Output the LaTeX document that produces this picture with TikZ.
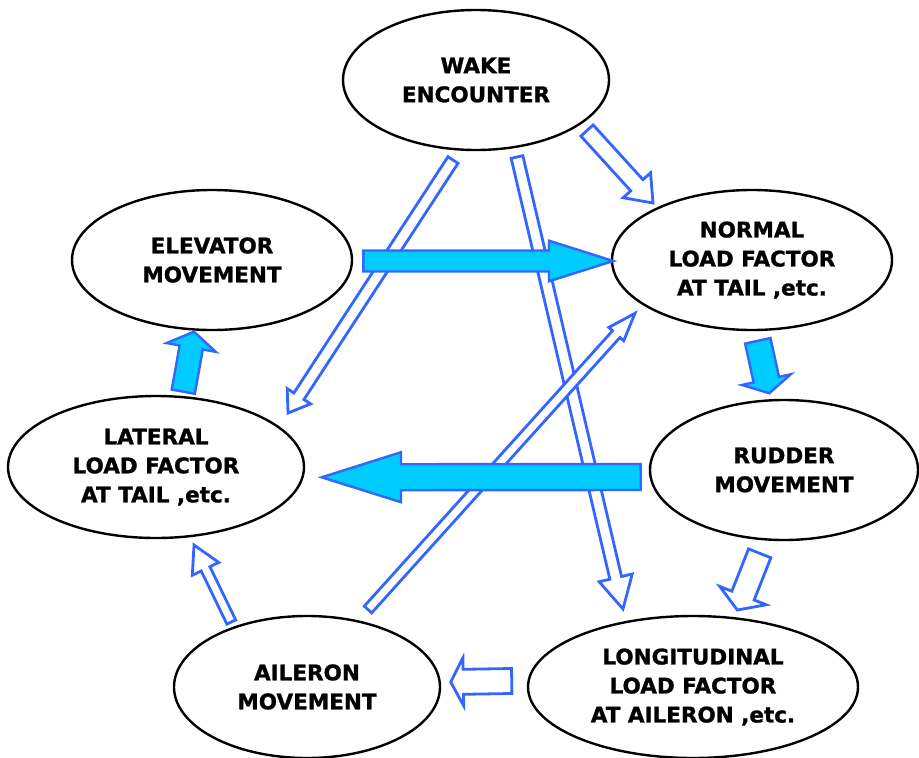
\documentclass[tikz,border=0pt]{standalone}
\usepackage{fontspec}
\setmainfont{DejaVu Sans}[BoldFeatures={FakeBold=1.2}]
\usetikzlibrary{shapes.geometric,calc}
\definecolor{arrline}{HTML}{3366FF}
\definecolor{arrfill}{HTML}{00CCFF}
\newcommand{\barrow}[6]{%
  \coordinate (hb) at ($(#2)!#5!(#1)$);
  \draw[#6] ($(#1)!#3!90:(#2)$) -- ($(hb)!#3!90:(#2)$) -- ($(hb)!#4!90:(#2)$) -- (#2)
    -- ($(hb)!#4!-90:(#2)$) -- ($(hb)!#3!-90:(#2)$) -- ($(#1)!#3!-90:(#2)$) -- cycle;}
\tikzset{
  oval/.style={ellipse, draw=black, line width=2.4pt, fill=white, inner sep=0pt, align=center,
    font=\fontsize{21.5}{29}\selectfont\bfseries},
  hollow/.style={draw=arrline, line width=2.8pt, fill=white, line join=miter},
  solid/.style={draw=arrline, line width=2.4pt, fill=arrfill, line join=miter}
}
\begin{document}
\begin{tikzpicture}[x=1pt,y=-1pt]
\useasboundingbox (0,0) rectangle (919,758);
% ellipses
\node[oval, minimum width=266pt, minimum height=140pt] (wake) at (476,80) {WAKE\\ENCOUNTER};
\node[oval, minimum width=280pt, minimum height=140pt] (elev) at (212,260) {ELEVATOR\\MOVEMENT};
\node[oval, minimum width=280pt, minimum height=140pt] (norm) at (752,260) {NORMAL\\LOAD FACTOR\\AT TAIL ,etc.};
\node[oval, minimum width=296pt, minimum height=142pt] (lat) at (156,467) {LATERAL\\LOAD FACTOR\\AT TAIL ,etc.};
\node[oval, minimum width=268pt, minimum height=140pt] (rud) at (784,470) {RUDDER\\MOVEMENT};
\node[oval, minimum width=266pt, minimum height=142pt] (ail) at (307,687) {AILERON\\MOVEMENT};
\node[oval, minimum width=330pt, minimum height=142pt] (lon) at (693,687) {LONGITUDINAL\\LOAD FACTOR\\AT AILERON ,etc.};
% arrow end points
\coordinate (a1) at (587,130.5); \coordinate (a2) at (653,203);
\coordinate (b1) at (453,160);   \coordinate (b2) at (288,413);
\coordinate (c1) at (517,157);   \coordinate (c2) at (623,609);
\coordinate (d1) at (368,609.5); \coordinate (d2) at (635,313.3);
\coordinate (e1) at (759.7,553.3); \coordinate (e2) at (737.3,610);
\coordinate (f1) at (511.7,681); \coordinate (f2) at (450.7,682);
\coordinate (g1) at (231.3,622); \coordinate (g2) at (194,545);
\coordinate (h1) at (363.3,261); \coordinate (h2) at (613.3,261);
\coordinate (i1) at (640.7,477); \coordinate (i2) at (321.7,477.3);
\coordinate (j1) at (757.8,340.8); \coordinate (j2) at (769.3,393.3);
\coordinate (k1) at (183.3,391.7); \coordinate (k2) at (194,331.7);
% hollow arrows
\barrow{a1}{a2}{8.3pt}{18.5pt}{24pt}{hollow}
\barrow{b1}{b2}{6pt}{14pt}{20pt}{hollow}
\barrow{c1}{c2}{6pt}{17pt}{32pt}{hollow}
\barrow{d1}{d2}{5pt}{10pt}{28pt}{hollow}
\barrow{e1}{e2}{12pt}{25pt}{15.5pt}{hollow}
\barrow{f1}{f2}{12.5pt}{24pt}{12.6pt}{hollow}
\barrow{g1}{g2}{4.85pt}{14.7pt}{26.5pt}{hollow}
% filled arrows
\barrow{h1}{h2}{10.5pt}{20.3pt}{64.3pt}{solid}
\barrow{i1}{i2}{13pt}{25pt}{79.3pt}{solid}
\barrow{j1}{j2}{13pt}{25pt}{14pt}{solid}
\barrow{k1}{k2}{11.75pt}{25pt}{16pt}{solid}
\end{tikzpicture}
\end{document}
